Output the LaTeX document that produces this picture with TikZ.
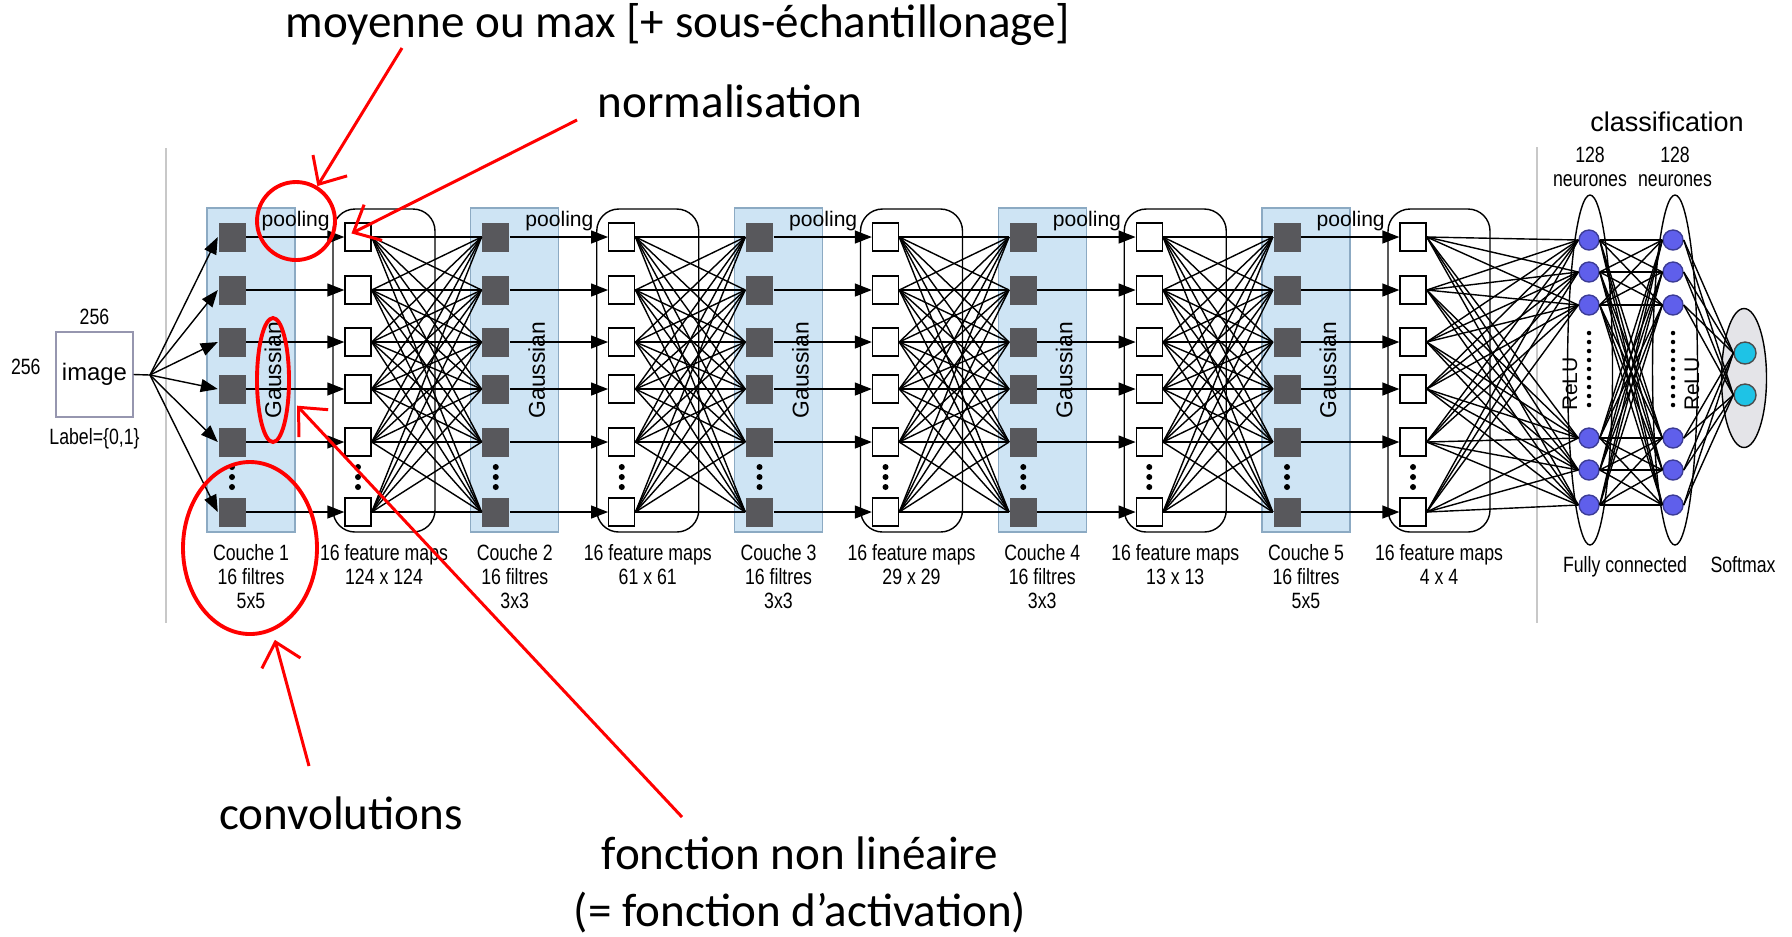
\documentclass[tikz,border=0pt]{standalone}
\usepackage{fontspec}
\setmainfont{Liberation Sans}
\newfontfamily\narrowsf[FakeStretch=0.8]{Liberation Sans}
\newfontfamily\notefont{Carlito}
\usepackage{tikz}
\usetikzlibrary{shapes.geometric,arrows.meta,positioning,calc}
\definecolor{boxblue}{RGB}{206,228,244}
\definecolor{boxedge}{RGB}{140,170,195}
\definecolor{convgray}{RGB}{88,88,92}
\definecolor{neuronblue}{RGB}{95,95,235}
\definecolor{neuronedge}{RGB}{60,60,150}
\definecolor{softcyan}{RGB}{30,195,230}
\definecolor{ringgray}{RGB}{228,228,232}
\definecolor{trenngray}{RGB}{200,200,200}
\definecolor{imgedge}{RGB}{150,150,175}
\tikzset{
  convsq/.style={rectangle, fill=convgray, minimum width=2.7mm, minimum height=2.9mm, inner sep=0pt},
  mapsq/.style={rectangle, draw=black, fill=white, line width=0.4pt, minimum width=2.6mm, minimum height=2.8mm, inner sep=0pt},
  convbox/.style={rectangle, draw=boxedge, fill=boxblue, minimum width=8.8mm, minimum height=32.4mm, inner sep=0pt},
  mapbox/.style={rectangle, draw=black, line width=0.4pt, rounded corners=2.2mm, minimum width=10.2mm, minimum height=32.3mm, inner sep=0pt},
  bild/.style={rectangle, draw=imgedge, minimum width=7.7mm, minimum height=8.5mm, inner sep=0pt, font=\fontsize{6.8}{8}\selectfont},
  neuron/.style={circle, draw=neuronedge, fill=neuronblue, minimum size=2mm, inner sep=0pt},
  smneuron/.style={circle, draw=black!70, fill=softcyan, minimum size=2.2mm, inner sep=0pt},
  fcring/.style={ellipse, draw=black, line width=0.4pt, minimum width=4.5mm, minimum height=35mm, inner sep=0pt},
  smring/.style={ellipse, draw=black, fill=ringgray, line width=0.4pt, minimum width=4.5mm, minimum height=13.9mm, inner sep=0pt},
  lbl/.style={font=\narrowsf\fontsize{6.3}{6.8}\selectfont, align=center, inner sep=0pt},
  tag/.style={font=\fontsize{6}{7}\selectfont, inner sep=0pt},
  gauss/.style={font=\fontsize{6.5}{7}\selectfont, inner sep=0pt, rotate=90},
  kante/.style={draw=black, line width=0.4pt},
  pfeil/.style={kante, -{Triangle[length=1.7mm, width=1.3mm]}},
  punkte/.style={line width=0.45mm, dash pattern=on 0pt off 0.9mm, line cap=round},
  trenn/.style={draw=trenngray, line width=0.5pt},
  rotring/.style={ellipse, draw=red, line width=1.1pt, inner sep=0pt},
  rotpfeil/.style={draw=red, line width=0.85pt, -{Straight Barb[length=2.2mm, width=4mm]}},
  notiz/.style={font=\notefont\fontsize{13.4}{16.2}\selectfont, align=center, inner sep=0pt}
}

\begin{document}
\begin{tikzpicture}[x=0.1mm, y=-0.1mm]
\useasboundingbox (0,0) rectangle (1792,936);

\draw[trenn] (166,148) -- (166,623);
\draw[trenn] (1537,147) -- (1537,623);

% input image
\node[bild] (img) at (94.5,374.5) {image};
\node[lbl, above=0.6mm of img] (imgw) {256};
\node[lbl, left=1.4mm of img, yshift=0.8mm] (imgh) {256};
\node[lbl, below=1mm of img] (imglab) {Label=\{0,1\}};
\coordinate (fan) at (150,375);

% convolution layers and feature maps
\foreach \i/\nr/\ks/\fm in {0/1/5x5/124 x 124,1/2/3x3/61 x 61,2/3/3x3/29 x 29,3/4/3x3/13 x 13,4/5/5x5/4 x 4} {
  \pgfmathsetmacro\xc{232+263.75*\i}
  \pgfmathsetmacro\xf{358+263.75*\i}
  \node[convbox] (cb\i) at (\xc+19,370) {};
  \node[mapbox] (mb\i) at (\xf+26,370.5) {};
  \foreach \r/\y in {1/237,2/290,3/342,4/389,5/442,6/512} {
    \node[convsq] (c\i-\r) at (\xc,\y) {};
    \node[mapsq] (f\i-\r) at (\xf,\y) {};
  }
  \foreach \dy in {-10,0,10} {
    \fill (\xc,477+\dy) circle (0.3mm);
    \fill (\xf,477+\dy) circle (0.3mm);
  }
  \node[lbl, below=1.1mm of cb\i] (cl\i) {Couche \nr\\16 filtres\\\ks};
  \node[lbl, below=1.1mm of mb\i] (ml\i) {16 feature maps\\\fm};
}

\draw[kante] (img.east) -- (fan);
\foreach \r in {1,...,6}
  \draw[pfeil] (fan) -- (c0-\r.west);
\foreach \i in {0,...,4}
  \foreach \r in {1,...,6}
    \draw[pfeil] (c\i-\r.east) -- (f\i-\r.west);
\foreach \i in {0,...,3} {
  \pgfmathtruncatemacro\j{\i+1}
  \foreach \r in {1,...,6}
    \foreach \s in {1,...,6}
      \draw[kante] (f\i-\r.east) -- (c\j-\s.west);
}

\foreach \i in {0,...,4} {
  \node[tag, below=0.3mm of cb\i.north east] (pool\i) {pooling};
  \node[gauss] (gs\i) at ([xshift=2.2mm]cb\i.center) {Gaussian};
}

% classification
\node[fcring] (fc1) at (1590,370) {};
\node[fcring] (fc2) at (1675,370) {};
\node[smring] (sm) at (1744,378) {};
\foreach \r/\y in {1/240,2/272,3/305,4/438,5/470,6/505} {
  \node[neuron] (n1-\r) at (1589,\y) {};
  \node[neuron] (n2-\r) at (1673,\y) {};
}
\node[smneuron] (s1) at (1745,353) {};
\node[smneuron] (s2) at (1745,395) {};
\foreach \r in {1,...,6} {
  \foreach \s in {1,...,6} {
    \draw[kante] (f4-\r.east) -- (n1-\s.west);
    \draw[kante] (n1-\r.east) -- (n2-\s.west);
  }
  \draw[kante] (n2-\r.east) -- (s1.west);
  \draw[kante] (n2-\r.east) -- (s2.west);
}
\draw[punkte] (1589,333) -- (1589,412);
\draw[punkte] (1673,333) -- (1673,412);
\node[tag, rotate=90] (relu1) at (1570,384) {ReLU};
\node[tag, rotate=90] (relu2) at (1692,384) {ReLU};
\node[lbl, above=0.7mm of fc1] (nb1) {128\\neurones};
\node[lbl, above=0.7mm of fc2] (nb2) {128\\neurones};
\node[font=\fontsize{7.7}{9}\selectfont, inner sep=0pt] (cls) at (1667,122) {classification};
\node[lbl] (fully) at (1625,567) {Fully connected};
\node[lbl] (soft) at (1743,565) {Softmax};

% annotations
\node[notiz] (moy) at (678,25) {moyenne ou max [+ sous-échantillonage]};
\node[notiz] (norm) at (730,101) {normalisation};
\node[notiz] (conv) at (341,813) {convolutions};
\node[notiz] (fnl) at (800,885) {fonction non linéaire\\(= fonction d’activation)};
\node[rotring, minimum width=7.8mm, minimum height=7.8mm] (poolring) at (296,221) {};
\node[rotring, minimum width=3.2mm, minimum height=12.4mm] (gaussring) at (273,380) {};
\node[rotring, minimum width=13.4mm, minimum height=17.2mm] (couchering) at (250,548) {};
\coordinate (moyfuss) at (402,48);
\coordinate (normfuss) at (577,120);
\coordinate (convfuss) at (309,766);
\coordinate (fnlfuss) at (682,817);
\draw[rotpfeil] (moyfuss) -- (poolring);
\draw[rotpfeil, shorten >=0.8mm] (normfuss) -- (f0-1.west);
\draw[rotpfeil, shorten >=0.9mm] (convfuss) -- (couchering);
\draw[rotpfeil, shorten >=1mm] (fnlfuss) -- (gaussring);

\end{tikzpicture}
\end{document}
